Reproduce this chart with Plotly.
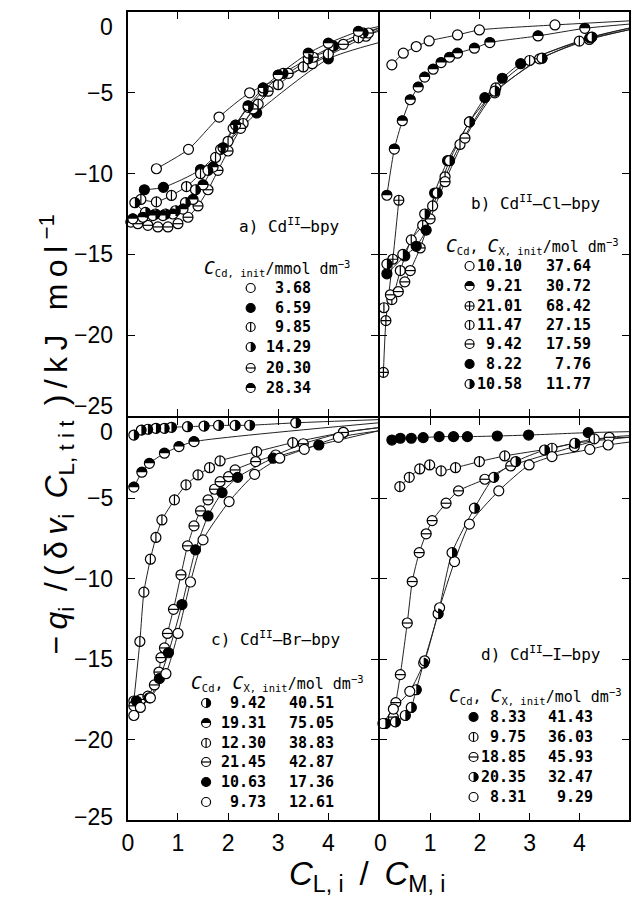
import plotly.graph_objects as go

W, H = 635, 913
X_MAX = 5.0

# ---------------- a) Cd(II)-bpy, c_Cd,init / mmol dm-3 ----------------
A_LABELS = ["3.68", "6.59", "9.85", "14.29", "20.30", "28.34"]
A_368_X = [0.57, 1.21, 1.82, 2.43, 3.68, 4.75]
A_368_Y = [-9.7, -8.5, -6.5, -5.0, -3.2, -1.5]
A_659_X = [0.33, 0.71, 1.45, 2.57, 4.0]
A_659_Y = [-11.0, -10.85, -9.75, -6.25, -2.9]
A_985_X = [0.26, 0.57, 0.87, 1.17, 1.45, 1.75, 2.0, 2.3, 2.6, 3.0, 3.5, 4.0, 4.6]
A_985_Y = [-11.6, -11.75, -11.35, -10.8, -10.0, -9.0, -8.0, -6.9, -5.7, -4.5, -3.4, -2.6, -1.6]
A_1429_X = [0.14, 0.35, 0.55, 0.75, 0.95, 1.15, 1.35, 1.6, 1.85, 2.1, 2.4, 2.7, 3.1, 3.6, 4.1, 4.7]
A_1429_Y = [-11.8, -12.4, -12.5, -12.5, -12.3, -11.8, -11.0, -9.8, -8.5, -7.2, -5.9, -4.9, -3.8, -2.9, -2.1, -1.3]
A_2030_X = [0.06, 0.2, 0.4, 0.6, 0.8, 1.0, 1.2, 1.4, 1.6, 1.8, 2.0, 2.25, 2.5, 2.8, 3.2, 3.7, 4.3, 4.8]
A_2030_Y = [-13.0, -13.1, -13.2, -13.3, -13.3, -13.1, -12.7, -12.0, -11.0, -9.8, -8.6, -7.2, -6.0, -4.9, -3.8, -2.8, -2.0, -1.3]
A_2834_X = [0.1, 0.3, 0.5, 0.7, 0.9, 1.1, 1.3, 1.5, 1.7, 1.9, 2.15, 2.4, 2.7, 3.0, 3.6, 4.0, 4.6]
A_2834_Y = [-12.8, -12.7, -12.6, -12.6, -12.5, -12.2, -11.6, -10.7, -9.6, -8.4, -7.0, -5.8, -4.7, -3.9, -2.55, -1.93, -1.2]
A_EDGE = [-1.1, -1.9, -1.2, -1.0, -1.0, -0.9]

# ---------------- b) Cd(II)-Cl-bpy, c_Cd, c_X,init / mol dm-3 ----------------
B_CD = ["10.10", "9.21", "21.01", "11.47", "9.42", "8.22", "10.58"]
B_X = ["37.64", "30.72", "68.42", "27.15", "17.59", "7.76", "11.77"]
B_1010_X = [0.23, 0.46, 0.72, 0.98, 1.55, 1.99, 3.51]
B_1010_Y = [-3.27, -2.55, -2.14, -1.79, -1.42, -1.11, -0.80]
B_921_X = [0.13, 0.28, 0.44, 0.60, 0.76, 0.89, 1.06, 1.22, 1.39, 1.55, 1.89, 2.20, 3.17, 4.11]
B_921_Y = [-11.34, -8.48, -6.73, -5.43, -4.65, -4.03, -3.54, -3.13, -2.80, -2.55, -2.24, -1.89, -1.48, -1.01]
B_2101_X = [0.06, 0.11, 0.25, 0.37]
B_2101_Y = [-22.3, -19.1, -15.3, -11.65]
B_1147_X = [0.07, 0.23, 0.40, 0.62, 0.85, 1.05, 1.3, 1.6, 2.32, 3.0, 4.0]
B_1147_Y = [-18.3, -17.8, -16.0, -14.1, -13.2, -12.0, -10.2, -8.2, -4.7, -3.0, -1.8]
B_942_X = [0.2, 0.36, 0.49, 0.6, 0.8, 1.0, 1.3, 1.7, 2.3, 3.2, 4.2]
B_942_Y = [-17.5, -17.3, -16.7, -16.0, -14.6, -12.8, -10.5, -7.8, -5.0, -2.9, -1.7]
B_822_X = [0.13, 0.49, 0.72, 0.92, 1.09, 1.35, 1.79, 2.10, 2.45, 2.82, 4.21]
B_822_Y = [-16.2, -15.1, -14.5, -13.5, -11.2, -9.2, -6.8, -5.3, -4.1, -3.2, -1.6]
B_1058_X = [0.13, 0.45, 0.89, 1.14, 1.39, 1.79, 2.3, 3.25, 4.25]
B_1058_Y = [-15.6, -15.0, -12.5, -11.2, -9.2, -6.8, -4.9, -2.86, -1.55]
B_EDGE = [-0.55, -0.75, None, -1.1, -1.1, -1.0, -1.0]

# ---------------- c) Cd(II)-Br-bpy ----------------
C_CD = ["9.42", "19.31", "12.30", "21.45", "10.63", "9.73"]
C_X = ["40.51", "75.05", "38.83", "42.87", "17.36", "12.61"]
C_942_X = [0.12, 0.27, 0.40, 0.56, 0.73, 0.87, 1.19, 1.52, 1.81, 2.14, 2.43, 3.35]
C_942_Y = [-1.06, -0.75, -0.70, -0.64, -0.64, -0.58, -0.54, -0.50, -0.46, -0.46, -0.45, -0.30]
C_1931_X = [0.12, 0.28, 0.43, 0.73, 1.02, 1.32]
C_1931_Y = [-4.3, -3.37, -2.82, -2.19, -1.78, -1.47]
C_1230_X = [0.12, 0.24, 0.32, 0.45, 0.56, 0.68, 0.93, 1.16, 1.40, 1.63, 1.84, 2.57, 3.29, 4.3]
C_1230_Y = [-17.6, -13.9, -10.83, -8.78, -7.43, -6.34, -5.09, -4.16, -3.54, -3.09, -2.67, -2.09, -1.53, -0.9]
C_2145_X = [0.12, 0.26, 0.40, 0.53, 0.62, 0.66, 0.73, 0.79, 0.91, 1.06, 1.19, 1.32, 1.45, 1.60, 1.73, 1.84, 2.01, 2.14, 2.55, 2.95, 3.5, 4.3]
C_2145_Y = [-17.9, -17.5, -17.3, -16.6, -15.8, -14.9, -14.3, -13.4, -11.9, -9.75, -7.95, -6.71, -5.78, -5.09, -4.43, -3.96, -3.65, -3.23, -2.71, -2.3, -1.6, -0.9]
C_1063_X = [0.17, 0.43, 0.63, 0.81, 1.08, 1.35, 1.60, 1.88, 2.19, 2.9, 3.81]
C_1063_Y = [-17.6, -17.4, -16.2, -14.6, -11.6, -8.2, -6.09, -4.64, -3.69, -2.5, -1.68]
C_973_X = [0.12, 0.25, 0.45, 0.76, 1.0, 1.25, 1.50, 2.02, 2.53, 3.03, 3.52, 4.2]
C_973_Y = [-18.5, -18.0, -17.4, -15.9, -13.4, -10.2, -7.58, -5.2, -3.5, -2.5, -1.95, -1.2]
C_EDGE = [-0.1, -0.3, -0.6, -0.6, -0.8, -0.8]

# ---------------- d) Cd(II)-I-bpy ----------------
D_CD = ["8.33", "9.75", "18.85", "20.35", "8.31"]
D_X = ["41.43", "36.03", "45.93", "32.47", "9.29"]
D_833_X = [0.23, 0.40, 0.62, 0.86, 1.18, 1.47, 1.75, 2.35, 2.98, 4.18]
D_833_Y = [-1.37, -1.26, -1.26, -1.22, -1.16, -1.16, -1.16, -1.12, -1.06, -0.91]
D_975_X = [0.39, 0.58, 0.79, 0.99, 1.22, 1.51, 1.99, 2.50, 3.45, 4.3]
D_975_Y = [-4.27, -3.69, -3.17, -2.92, -3.29, -3.09, -2.71, -2.36, -1.88, -1.3]
D_1885_X = [0.26, 0.31, 0.40, 0.54, 0.64, 0.78, 0.92, 1.04, 1.32, 1.57, 2.10, 2.62, 3.9, 4.6]
D_1885_Y = [-18.6, -17.7, -15.96, -12.75, -10.17, -8.37, -7.2, -6.38, -5.3, -4.53, -3.81, -2.98, -1.78, -1.2]
D_2035_X = [0.1, 0.3, 0.5, 0.62, 0.72, 0.87, 1.16, 1.44, 1.89, 2.28, 2.72, 3.30, 3.91]
D_2035_Y = [-19.0, -18.9, -18.5, -18.0, -16.9, -15.24, -12.17, -8.37, -5.61, -3.69, -2.71, -1.99, -1.57]
D_831_X = [0.05, 0.26, 0.59, 0.89, 1.19, 1.49, 1.79, 2.38, 2.99, 3.45, 4.21, 4.58]
D_831_Y = [-19.0, -18.1, -17.0, -15.1, -11.8, -8.93, -6.6, -4.53, -2.92, -2.4, -1.95, -1.68]
D_EDGE = [-0.85, -1.2, -1.1, -1.2, -1.5]

Y_TICKS = [0, -5, -10, -15, -20, -25]

# ---------------- styling ----------------
TICK_FONT = dict(family="Liberation Sans", size=23, color="black")
TXT_FONT = dict(family="DejaVu Sans Mono", size=15, color="black")
NUM_FONT = dict(family="DejaVu Sans Mono", size=15, color="black", weight="bold")
LABEL_FONT = dict(family="DejaVu Sans Mono", size=16, color="black")
TITLE_FONT = dict(family="Liberation Sans", size=32, color="black")
LW = 2  # frame line width; shared frame edges are offset by LW so they coincide
TS = "\u2009"  # thin space used to open up the axis-title lettering

fig = go.Figure()


def half_path(kind, r):
    """Pixel-space path of a half disc (bezier approximation)."""
    k = 0.5523 * r
    if kind == "r":  # right half black
        return (f"M 0,{r} C {k},{r} {r},{k} {r},0 "
                f"C {r},{-k} {k},{-r} 0,{-r} Z")
    # upper half black
    return (f"M {-r},0 C {-r},{k} {-k},{r} 0,{r} "
            f"C {k},{r} {r},{k} {r},0 Z")


def add_markers(xs, ys, kind, xa, ya, size):
    base = dict(x=xs, y=ys, xaxis=xa, yaxis=ya, hoverinfo="skip",
                showlegend=False, cliponaxis=False)
    edge = dict(color="black", width=1.2)
    if kind == "f":
        fig.add_trace(go.Scatter(mode="markers", marker=dict(
            symbol="circle", size=size, color="black", line=edge), **base))
        return
    if kind == "p":
        fig.add_trace(go.Scatter(mode="markers", marker=dict(
            symbol="circle-cross", size=size, color="white", line=edge), **base))
        return
    fig.add_trace(go.Scatter(mode="markers", marker=dict(
        symbol="circle", size=size, color="white", line=edge), **base))
    if kind in ("v", "h"):
        sym = "line-ns-open" if kind == "v" else "line-ew-open"
        fig.add_trace(go.Scatter(mode="markers", marker=dict(
            symbol=sym, size=size / 1.4, color="black", line=edge), **base))
    elif kind in ("r", "t"):
        path = half_path(kind, size / 2 + 0.3)
        for x, y in zip(xs, ys):
            fig.add_shape(type="path", xref=xa, yref=ya, xsizemode="pixel",
                          ysizemode="pixel", xanchor=x, yanchor=y, path=path,
                          fillcolor="black", line=dict(width=0), layer="above")


def add_panel(series, edges, kinds, xa, ya):
    for (xs, ys), e in zip(series, edges):
        lx, ly = list(xs), list(ys)
        if e is not None:
            lx.append(X_MAX)
            ly.append(e)
        fig.add_trace(go.Scatter(x=lx, y=ly, mode="lines", xaxis=xa, yaxis=ya,
                                 line=dict(color="#222", width=1, shape="spline",
                                           smoothing=0.6),
                                 hoverinfo="skip", showlegend=False))
    for (xs, ys), k in zip(series, kinds):
        add_markers(xs, ys, k, xa, ya, 10)


add_panel([(A_368_X, A_368_Y), (A_659_X, A_659_Y), (A_985_X, A_985_Y),
           (A_1429_X, A_1429_Y), (A_2030_X, A_2030_Y), (A_2834_X, A_2834_Y)],
          A_EDGE, "ofvrht", "x", "y")
add_panel([(B_1010_X, B_1010_Y), (B_921_X, B_921_Y), (B_2101_X, B_2101_Y),
           (B_1147_X, B_1147_Y), (B_942_X, B_942_Y), (B_822_X, B_822_Y),
           (B_1058_X, B_1058_Y)],
          B_EDGE, "otpvhfr", "x2", "y2")
add_panel([(C_942_X, C_942_Y), (C_1931_X, C_1931_Y), (C_1230_X, C_1230_Y),
           (C_2145_X, C_2145_Y), (C_1063_X, C_1063_Y), (C_973_X, C_973_Y)],
          C_EDGE, "rtvhfo", "x3", "y3")
add_panel([(D_833_X, D_833_Y), (D_975_X, D_975_Y), (D_1885_X, D_1885_Y),
           (D_2035_X, D_2035_Y), (D_831_X, D_831_Y)],
          D_EDGE, "fvhro", "x4", "y4")


# ---------------- in-panel labels and keys (pixel layout) ----------------
def px(x):
    return x / W


def py(y):
    return 1 - y / H


def text(x, y, s, anchor="left", font=TXT_FONT, **kw):
    fig.add_annotation(x=px(x), y=py(y), xref="paper", yref="paper", text=s,
                       showarrow=False, xanchor=anchor, yanchor="middle",
                       font=font, **kw)


def key(title, title_xy, rows_y, sym_x, kinds, cols, col_right, label, label_xy):
    text(label_xy[0], label_xy[1], label, font=LABEL_FONT)
    text(title_xy[0], title_xy[1], title)
    for yy, k in zip(rows_y, kinds):
        add_markers([sym_x], [yy], k, "x5", "y5", 9)
    for col, xr in zip(cols, col_right):
        for yy, s in zip(rows_y, col):
            text(xr, yy, s, anchor="right", font=NUM_FONT)


BIG_C = "<span style='font-size:18px'><i>C</i></span>"
TITLE_1 = BIG_C + "<sub>Cd, init</sub>/mmol dm<sup>\u22123</sup>"
TITLE_2 = BIG_C + "<sub>Cd</sub>, " + BIG_C + "<sub>X, init</sub>/mol dm<sup>\u22123</sup>"

key(TITLE_1, (198, 268), [288, 308, 327, 347, 368, 388], 247, "ofvrht",
    [A_LABELS], [310], "a) Cd<sup>II</sup>\u2013bpy", (233, 225))
key(TITLE_2, (442, 246), [266, 286, 306, 325, 344, 364, 384], 468, "otpvhfr",
    [B_CD, B_X], [523, 593], "b) Cd<sup>II</sup>\u2013Cl\u2013bpy", (467, 203))
key(TITLE_2, (185, 683), [703, 723, 743, 762, 782, 802], 202, "rtvhfo",
    [C_CD, C_X], [265, 333], "c) Cd<sup>II</sup>\u2013Br\u2013bpy", (205, 638))
key(TITLE_2, (445, 696), [717, 737, 757, 777, 797], 472, "fvhro",
    [D_CD, D_X], [527, 595], "d) Cd<sup>II</sup>\u2013I\u2013bpy", (478, 653))

# y tick labels (end labels are nudged inside the frame)
for ya, shifts in (("y", {0: -15, -25: 10}), ("y3", {0: -14, -25: 3})):
    for v in Y_TICKS:
        fig.add_annotation(x=px(110), xref="paper", xanchor="right", y=v, yref=ya,
                           yanchor="middle", showarrow=False,
                           text=("\u2212%d" % abs(v)) if v else "0",
                           font=TICK_FONT, yshift=shifts.get(v, 0))

# axis titles
text(364, 876, "<i>C</i><sub>L, i</sub>" + TS + " / " + TS + "<i>C</i><sub>M, i</sub>",
     anchor="center", font=dict(TITLE_FONT, size=33))
Y_TITLE = TS.join(["\u2212", "<i>q</i><sub>i</sub>", " /", "(", "\u03b4",
                   "<i>v</i><sub>i</sub>", " <i>C</i><sub>L, t i t</sub>", " )",
                   "/", "k", "J ", " m", "o", "l", "<sup>\u22121</sup>"])
fig.add_annotation(x=px(50), y=py(435), xref="paper", yref="paper", showarrow=False,
                   textangle=-90, xanchor="center", yanchor="middle",
                   text=Y_TITLE, font=TITLE_FONT)

# ---------------- axes ----------------
frame = dict(showline=True, linecolor="black", linewidth=LW, mirror="ticks",
             ticks="inside", ticklen=7, tickwidth=1.4, tickcolor="black",
             showgrid=False, zeroline=False, fixedrange=True)
MID_X, MID_Y = 377, 417
XL = [123 / W, (MID_X - LW / 2) / W]
XR = [(MID_X + LW / 2) / W, 629 / W]
YT = [1 - (MID_Y - LW / 2) / H, 1 - 12 / H]
YB = [1 - 820 / H, 1 - (MID_Y + LW / 2) / H]
xticks = dict(range=[0, X_MAX], tickvals=[0, 1, 2, 3, 4, 5], tickfont=TICK_FONT,
              ticklabelstandoff=1)
yticks = dict(range=[-25, 0], tickvals=Y_TICKS, showticklabels=False)

fig.update_layout(
    width=W, height=H, margin=dict(l=0, r=0, t=0, b=0),
    paper_bgcolor="white", plot_bgcolor="rgba(0,0,0,0)", showlegend=False,
    xaxis=dict(frame, **xticks, domain=XL, anchor="y", showticklabels=False),
    xaxis2=dict(frame, **xticks, domain=XR, anchor="y2", showticklabels=False),
    xaxis3=dict(frame, **dict(xticks, tickvals=[0, 1, 2, 3, 4]), domain=XL, anchor="y3"),
    xaxis4=dict(frame, **xticks, domain=XR, anchor="y4"),
    yaxis=dict(frame, **yticks, domain=YT, anchor="x"),
    yaxis2=dict(frame, **yticks, domain=YT, anchor="x2"),
    yaxis3=dict(frame, **yticks, domain=YB, anchor="x3"),
    yaxis4=dict(frame, **yticks, domain=YB, anchor="x4"),
    xaxis5=dict(domain=[0, 1], range=[0, W], visible=False, anchor="y5", fixedrange=True),
    yaxis5=dict(domain=[0, 1], range=[H, 0], visible=False, anchor="x5", fixedrange=True),
)

fig.write_html("out.html")
